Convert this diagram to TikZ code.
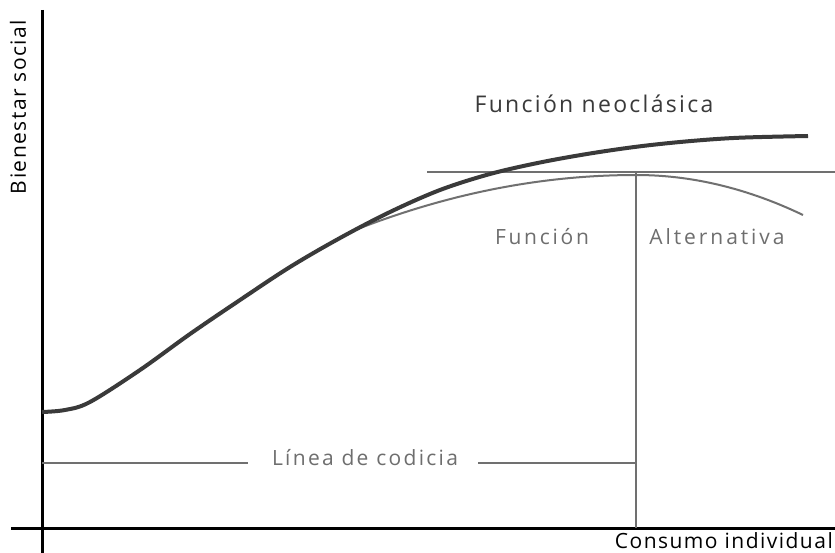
\documentclass[tikz,border=0pt]{standalone}
\usepackage{fontspec}
\setmainfont{Open Sans}
\definecolor{thickc}{HTML}{3A3A3A}
\definecolor{thinc}{HTML}{707070}
\definecolor{txtg}{HTML}{6E6E6E}
\newcommand{\trk}[2]{{\addfontfeature{LetterSpace=#1}#2}}
\begin{document}
\begin{tikzpicture}[x=1pt,y=-1pt,
  axis/.style={black,line width=3pt},
  guide/.style={thinc,line width=1.8pt},
  neo/.style={thickc,line width=4pt},
  alt/.style={thinc,line width=2pt},
  lbl/.style={inner sep=0pt,font=\fontsize{21}{21}\selectfont},
  glbl/.style={lbl,text=txtg}]
\useasboundingbox[fill=white] (0,0) rectangle (835,553);
% anchors
\coordinate (ytop) at (42,10);
\coordinate (ybot) at (42,553);
\coordinate (xl) at (11,528);
\coordinate (xr) at (835,528);
\coordinate (hl) at (427,172);
\coordinate (hr) at (835,172);
\coordinate (vt) at (636,172);
\coordinate (vb) at (636,528);
\coordinate (gl) at (42,463);
\coordinate (gr) at (636,463);
% axes
\draw[axis] (ytop) -- (ybot);
\draw[axis] (xl) -- (xr);
% guides
\draw[guide] (hl) -- (hr);
\draw[guide] (vt) -- (vb);
\node[glbl] (greed) at (365,458) {\trk{11}{Línea de codicia}};
\draw[guide] (gl) -- (248,463);
\draw[guide] (478,463) -- (gr);
% curves
\draw[alt] plot[domain=350:636,samples=40] (\x,{175+0.0697*((\x-636)/10)^2})
        -- plot[domain=636:803,samples=30] (\x,{175+0.1434*((\x-636)/10)^2});
\draw[neo] plot[smooth,tension=0.55] coordinates {(42,412) (65,410) (90,402) (140,370) (190,334) (240,300) (290,267) (340,238) (390,212) (440,190) (490,174) (540,162.5) (590,153.5) (640,146.3) (690,141.1) (740,137.7) (808,136)};
% labels
\node[lbl,text=thickc,font=\fontsize{23}{23}\selectfont] (neolbl) at (594,104) {\trk{10}{Función neoclásica}};
\node[glbl] (f1) at (542,237) {\trk{13}{Función}};
\node[glbl] (f2) at (717,237) {\trk{14}{Alternativa}};
\node[lbl,rotate=90] (ylab) at (18,107) {\trk{7}{Bienestar social}};
\node[lbl,anchor=east] (xlab) at (833,541) {\trk{7}{Consumo individual}};
\end{tikzpicture}
\end{document}
